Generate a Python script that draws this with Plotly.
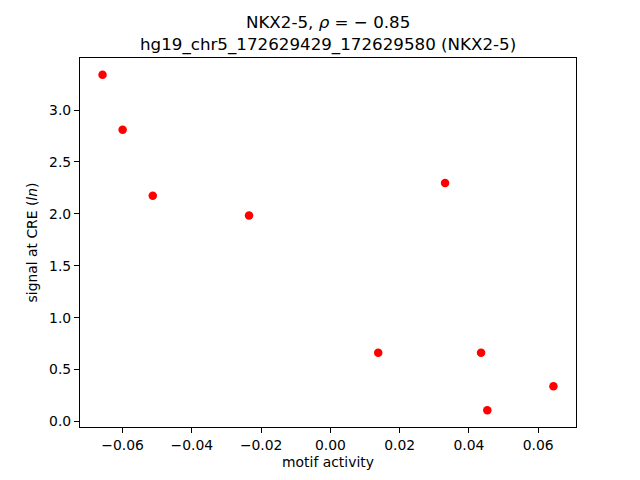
import plotly.graph_objects as go

# values
motif_activity = [-0.0658, -0.0600, -0.0513, -0.0235, 0.0138, 0.0331, 0.0435, 0.0453, 0.0644]
signal_cre = [3.340, 2.810, 2.175, 1.985, 0.662, 2.298, 0.662, 0.108, 0.338]

x_ticks = [-0.06, -0.04, -0.02, 0.00, 0.02, 0.04, 0.06]
y_ticks = [0.0, 0.5, 1.0, 1.5, 2.0, 2.5, 3.0]

title_text = "NKX2-5, <i>ρ</i> = − 0.85<br>hg19_chr5_172629429_172629580 (NKX2-5)"


def padded(vals, frac=0.05):
    lo, hi = min(vals), max(vals)
    span = hi - lo
    return [lo - frac * span, hi + frac * span]


FONT = "DejaVu Sans"
# the page body adds an 8px margin, so the figure is 8px smaller / shifted
W, H = 632, 464

fig = go.Figure(
    go.Scatter(
        x=motif_activity, y=signal_cre, mode="markers",
        marker=dict(color="red", size=8.5, line=dict(width=0)),
    )
)

axis_common = dict(
    showline=True, linecolor="black", linewidth=1.1, mirror=True,
    ticks="outside", ticklen=5, tickwidth=1.1, tickcolor="black",
    showgrid=False, zeroline=False, automargin=False,
    tickfont=dict(family=FONT, size=13.9, color="black"),
)

fig.update_layout(
    width=W, height=H,
    paper_bgcolor="white", plot_bgcolor="white",
    margin=dict(l=72, r=W - 568, t=49.6, b=H - 419.2),
    showlegend=False,
    font=dict(family=FONT, color="black"),
    xaxis=dict(
        range=padded(motif_activity), tickvals=x_ticks, tickformat=".2f",
        title=dict(text="motif activity", font=dict(family=FONT, size=13.9), standoff=5),
        **axis_common,
    ),
    yaxis=dict(
        range=padded(signal_cre), tickvals=y_ticks, tickformat=".1f",
        title=dict(text="signal at CRE (<i>ln</i>)", font=dict(family=FONT, size=13.9), standoff=8),
        **axis_common,
    ),
    annotations=[
        dict(
            text=title_text, xref="paper", yref="paper", x=0.5, y=1,
            xanchor="center", yanchor="bottom", yshift=1, showarrow=False,
            font=dict(family=FONT, size=16.7, color="black"),
        )
    ],
)

fig.write_html("out.html")
